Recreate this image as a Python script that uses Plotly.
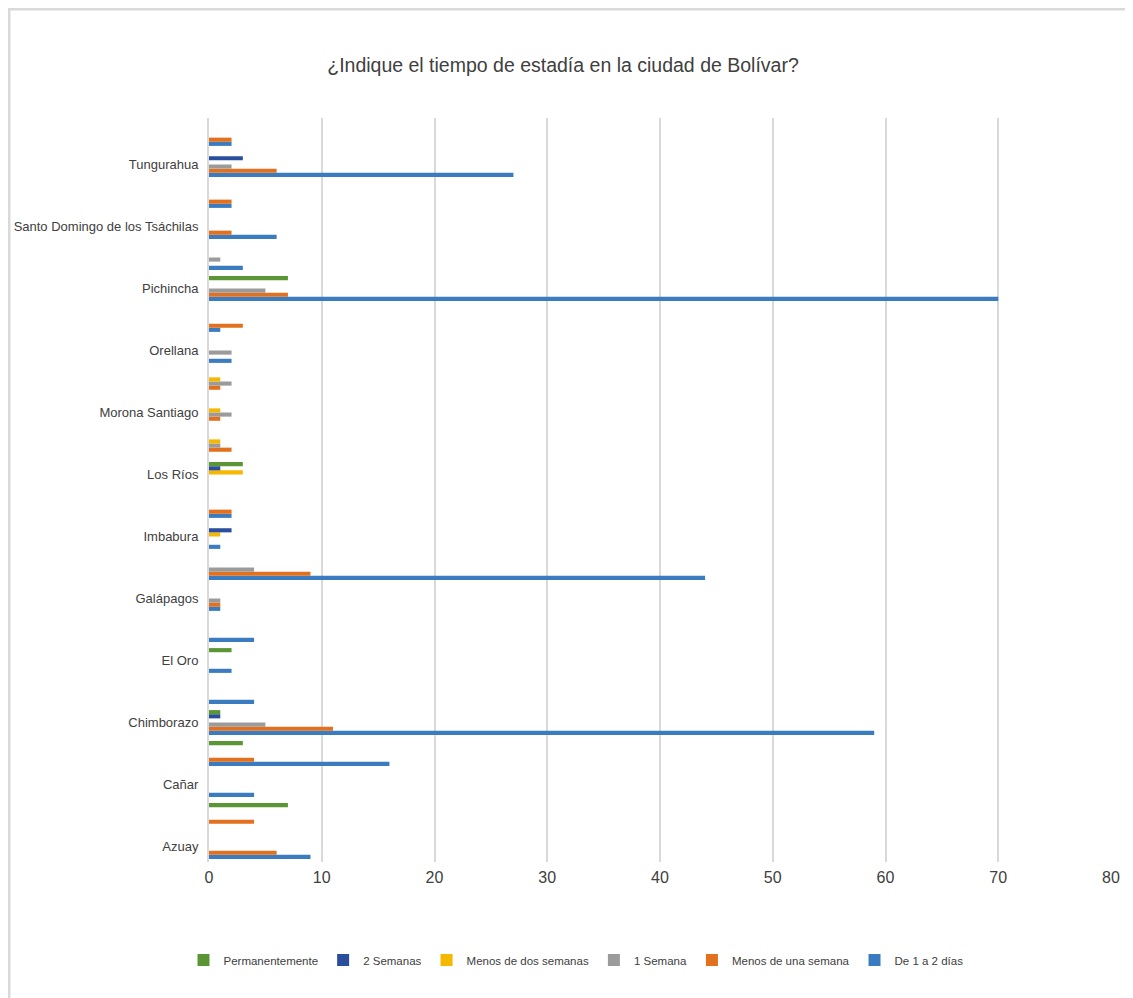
import plotly.graph_objects as go

# 24 provinces (alphabetical, bottom to top in the chart)
provinces = ["Azuay", "Bolívar", "Cañar", "Carchi", "Chimborazo", "Cotopaxi",
             "El Oro", "Esmeraldas", "Galápagos", "Guayas", "Imbabura", "Loja",
             "Los Ríos", "Manabí", "Morona Santiago", "Napo", "Orellana", "Pastaza",
             "Pichincha", "Santa Elena", "Santo Domingo de los Tsáchilas", "Sucumbíos",
             "Tungurahua", "Zamora Chinchipe"]

# labels Excel actually displays (every second category)
shown_labels = ["Azuay", "Cañar", "Chimborazo", "El Oro", "Galápagos", "Imbabura",
                "Los Ríos", "Morona Santiago", "Orellana", "Pichincha",
                "Santo Domingo de los Tsáchilas", "Tungurahua"]

de_1_a_2_dias =        [9, 0, 4, 16, 59, 4, 2, 4, 1, 44, 1, 2, 0, 0, 0, 0, 2, 1, 70, 3, 6, 2, 27, 2]
menos_de_una_semana =  [6, 4, 0, 4, 11, 0, 0, 0, 1, 9, 0, 2, 0, 2, 1, 1, 0, 3, 7, 0, 2, 2, 6, 2]
una_semana =           [0, 0, 0, 0, 5, 0, 0, 0, 1, 4, 0, 0, 0, 1, 2, 2, 2, 0, 5, 1, 0, 0, 2, 0]
menos_de_dos_semanas = [0, 0, 0, 0, 0, 0, 0, 0, 0, 0, 1, 0, 3, 1, 1, 1, 0, 0, 0, 0, 0, 0, 0, 0]
dos_semanas =          [0, 0, 0, 0, 1, 0, 0, 0, 0, 0, 2, 0, 1, 0, 0, 0, 0, 0, 0, 0, 0, 0, 3, 0]
permanentemente =      [0, 7, 0, 3, 1, 0, 2, 0, 0, 0, 0, 0, 3, 0, 0, 0, 0, 0, 7, 0, 0, 0, 0, 0]

x_ticks = [0, 10, 20, 30, 40, 50, 60, 70, 80]

series = [
    ("De 1 a 2 días", de_1_a_2_dias, "#3B7CC0"),
    ("Menos de una semana", menos_de_una_semana, "#E2711F"),
    ("1 Semana", una_semana, "#9B9B9B"),
    ("Menos de dos semanas", menos_de_dos_semanas, "#F6B700"),
    ("2 Semanas", dos_semanas, "#2A4E9E"),
    ("Permanentemente", permanentemente, "#5B9636"),
]

FONT = "Liberation Sans, Arial, sans-serif"
TXT = "#404040"
W, H = 1133, 998
L, R, T, B = 201, 30, 110, 144   # compensates the page's 8px body margin

fig = go.Figure()
for name, vals, color in series:
    fig.add_trace(go.Bar(y=provinces, x=vals, name=name, orientation="h",
                         marker=dict(color=color, line=dict(width=0))))

fig.update_layout(
    width=W, height=H,
    barmode="group", bargap=0.2, bargroupgap=0,
    paper_bgcolor="white", plot_bgcolor="white",
    margin=dict(l=L, r=R, t=T, b=B, autoexpand=False),
    font=dict(family=FONT, color=TXT),
    title=dict(text="¿Indique el tiempo de estadía en la ciudad de Bolívar?",
               font=dict(family=FONT, size=19.5, color=TXT),
               xref="container", x=555 / W, xanchor="center",
               yref="container", y=1 - 57 / H, yanchor="middle"),
    legend=dict(orientation="h", traceorder="reversed",
                xref="container", x=568 / W, xanchor="center",
                yref="container", y=1 - 952 / H, yanchor="middle",
                font=dict(family=FONT, size=11.5, color=TXT),
                itemwidth=30),
    xaxis=dict(range=[0, 80], tickvals=x_ticks, showgrid=True, automargin=False,
               gridcolor="#D9D9D9", gridwidth=2, zeroline=False,
               showline=False, ticks="", ticklabelstandoff=4,
               tickfont=dict(family=FONT, size=16, color=TXT)),
    yaxis=dict(type="category", categoryorder="array", categoryarray=provinces,
               tickvals=shown_labels, ticktext=shown_labels, automargin=False,
               showline=True, linecolor="#D9D9D9", linewidth=2,
               showgrid=False, ticks="", ticklabelstandoff=6,
               tickfont=dict(family=FONT, size=13, color=TXT)),
)

# chart-area border (light grey, runs off the right and bottom edges)
pw, ph = W - L - R, H - T - B
fig.add_shape(type="rect", xref="paper", yref="paper",
              x0=(1 - L) / pw, x1=(W + 20 - L) / pw,
              y0=(ph - (H + 20 - T)) / ph, y1=(ph - (1 - T)) / ph,
              line=dict(color="#D9D9D9", width=3), fillcolor="rgba(0,0,0,0)",
              layer="below")

fig.write_html("out.html")
